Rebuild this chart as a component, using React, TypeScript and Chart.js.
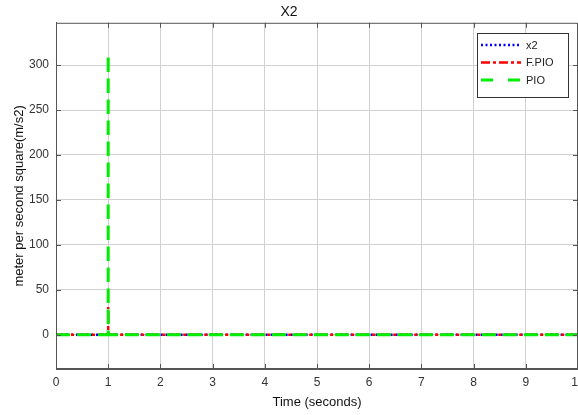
import React, { useEffect, useRef } from "react";
import { Chart, registerables } from "chart.js";

Chart.register(...registerables);

const chartTitle = "X2";
const xAxisTitle = "Time (seconds)";
const yAxisTitle = "meter per second square(m/s2)";

const xTicks = [0, 1, 2, 3, 4, 5, 6, 7, 8, 9, 10];
const yTicks = [0, 50, 100, 150, 200, 250, 300];

const seriesNames = ["x2", "F.PIO", "PIO"];

const timeX2 = [0, 1, 1, 1, 10];
const valX2 = [0, 0, 3, 0, 0];

const timeFPIO = [0, 1, 1, 1, 10];
const valFPIO = [0, 0, 31, 0, 0];

const timePIO = [0, 1, 1, 1, 10];
const valPIO = [0, 0, 312, 0, 0];

const toPoints = (t: number[], v: number[]) => t.map((x, i) => ({ x, y: v[i] }));

const boxPlugin = {
  id: "boxPlugin",
  afterDatasetsDraw(chart: any) {
    const { ctx, chartArea: a } = chart;
    ctx.save();
    ctx.strokeStyle = "#555";
    ctx.lineWidth = 1;
    ctx.setLineDash([]);
    ctx.strokeRect(a.left + 0.5, a.top + 0.5, a.right - a.left - 1, a.bottom - a.top - 1);
    const xs = chart.scales.x;
    ctx.beginPath();
    xTicks.forEach((t) => {
      const px = Math.round(xs.getPixelForValue(t)) + 0.5;
      ctx.moveTo(px, a.top);
      ctx.lineTo(px, a.top + 5);
      ctx.moveTo(px, a.bottom);
      ctx.lineTo(px, a.bottom - 5);
    });
    const ys = chart.scales.y;
    yTicks.forEach((t) => {
      const py = Math.round(ys.getPixelForValue(t)) + 0.5;
      ctx.moveTo(a.left, py);
      ctx.lineTo(a.left + 5, py);
      ctx.moveTo(a.right, py);
      ctx.lineTo(a.right - 5, py);
    });
    ctx.stroke();

    // legend
    const lx = 477, ly = 33, lw = 91, lh = 64;
    ctx.fillStyle = "#fff";
    ctx.fillRect(lx, ly, lw, lh);
    ctx.strokeStyle = "#333";
    ctx.strokeRect(lx + 0.5, ly + 0.5, lw, lh);
    const rows = [45, 62.5, 80];
    const ds = chart.data.datasets;
    ctx.font = "11px 'Liberation Sans', Arial, sans-serif";
    ctx.textBaseline = "middle";
    ctx.textAlign = "left";
    rows.forEach((ry, i) => {
      const d = ds[i];
      ctx.save();
      ctx.strokeStyle = d.borderColor;
      ctx.lineWidth = d.borderWidth;
      ctx.setLineDash(d.legendDash);
      ctx.beginPath();
      ctx.moveTo(481, ry);
      ctx.lineTo(521, ry);
      ctx.stroke();
      ctx.restore();
      ctx.fillStyle = "#222";
      ctx.fillText(seriesNames[i], 526, ry + 0.5);
    });
    ctx.restore();
  },
};

export default function App() {
  const ref = useRef<HTMLCanvasElement>(null);
  useEffect(() => {
    document.body.style.margin = "0";
    const font = "'Liberation Sans', Arial, sans-serif";
    const chart = new Chart(ref.current as HTMLCanvasElement, {
      type: "line",
      data: {
        datasets: [
          {
            label: seriesNames[0],
            data: toPoints(timeX2, valX2),
            borderColor: "#0000ff",
            borderWidth: 2.5,
            borderDash: [2, 3],
            legendDash: [2, 2.5],
            pointRadius: 0,
            order: 2,
          } as any,
          {
            label: seriesNames[1],
            data: toPoints(timeFPIO, valFPIO),
            borderColor: "#ff0000",
            borderWidth: 2.5,
            borderDash: [12, 3, 3, 3],
            legendDash: [9, 3, 3, 3],
            pointRadius: 0,
            order: 1,
          } as any,
          {
            label: seriesNames[2],
            data: toPoints(timePIO, valPIO),
            borderColor: "#00ee00",
            borderWidth: 3,
            borderDash: [14, 7],
            legendDash: [12, 15],
            pointRadius: 0,
            order: 0,
          } as any,
        ],
      },
      options: {
        responsive: false,
        animation: false,
        parsing: true,
        layout: { padding: 0 },
        plugins: {
          legend: { display: false },
          tooltip: { enabled: false },
          title: {
            display: true,
            text: chartTitle,
            color: "#111",
            font: { family: font, size: 14, weight: "normal" },
            padding: { top: 4, bottom: 2 },
          },
        },
        scales: {
          x: {
            type: "linear",
            min: 0,
            max: 10,
            afterBuildTicks: (s: any) => {
              s.ticks = xTicks.map((v) => ({ value: v }));
            },
            afterFit: (s: any) => {
              s.paddingLeft = 0;
              s.paddingRight = 0;
              s.height = 46;
            },
            ticks: {
              color: "#333",
              padding: 6,
              maxRotation: 0,
              autoSkip: false,
              font: { family: font, size: 12 },
            },
            grid: { color: "#d0d0d0", drawTicks: false },
            border: { color: "#555" },
            title: {
              display: true,
              text: xAxisTitle,
              color: "#111",
              font: { family: font, size: 13 },
              padding: { top: 0, bottom: 5 },
            },
          },
          y: {
            type: "linear",
            min: -38,
            max: 347,
            afterBuildTicks: (s: any) => {
              s.ticks = yTicks.map((v) => ({ value: v }));
            },
            afterFit: (s: any) => {
              s.width = 56;
            },
            ticks: {
              color: "#333",
              padding: 7,
              autoSkip: false,
              font: { family: font, size: 12 },
            },
            grid: { color: "#d0d0d0", drawTicks: false },
            border: { color: "#555" },
            title: {
              display: true,
              text: yAxisTitle,
              color: "#111",
              font: { family: font, size: 13 },
              padding: { top: 12, bottom: 0 },
            },
          },
        },
      },
      plugins: [boxPlugin],
    });
    return () => chart.destroy();
  }, []);
  return <canvas ref={ref} width={578} height={415} style={{ display: "block" }} />;
}
